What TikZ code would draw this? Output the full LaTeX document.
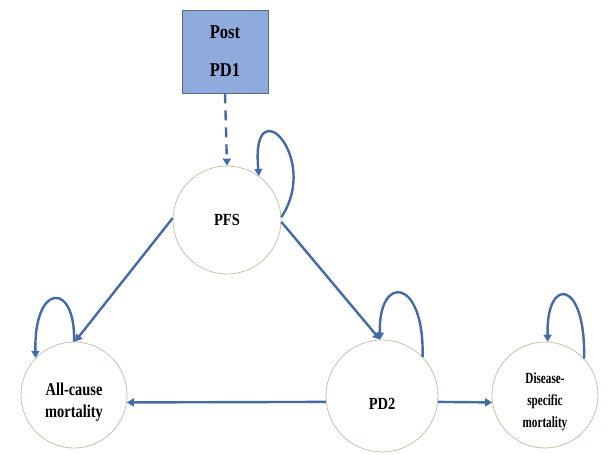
\documentclass[tikz,border=0pt]{standalone}
\usepackage{fontspec}
\setmainfont{Liberation Serif}
\newfontfamily\condA[FakeStretch=0.85]{Liberation Serif}
\newfontfamily\condB[FakeStretch=0.8]{Liberation Serif}
\newfontfamily\condC[FakeStretch=0.72]{Liberation Serif}
\usetikzlibrary{arrows.meta}
\definecolor{boxfill}{RGB}{143,170,220}
\definecolor{boxline}{RGB}{88,104,140}
\definecolor{flow}{RGB}{68,106,168}
\definecolor{ring}{RGB}{200,194,168}
% lower a text inside its node without changing the node's size
\newcommand{\lowertext}[2]{\raisebox{-#1}[\height][\depth]{#2}}
\begin{document}
\begin{tikzpicture}[x=1pt,y=-1pt,
  state/.style={circle,draw=ring,line width=0.8pt,fill=white,inner sep=0pt,align=center},
  flowline/.style={draw=flow,line width=2.4pt,-{Triangle[length=7pt,width=8pt]}},
  loopline/.style={draw=flow,line width=2.4pt,-{Triangle[length=7pt,width=8pt]}},
  entry/.style={rectangle,draw=boxline,line width=0.8pt,fill=boxfill,align=center,
    minimum width=86pt,minimum height=83pt,inner sep=0pt}]
\useasboundingbox (0,0) rectangle (608,455);

% entry box and the four states
\node[entry,font=\condA\bfseries\fontsize{19.5}{38}\selectfont] (post) at (225,51.5)
  {Post\\PD1};
\node[state,minimum size=108pt,font=\condA\bfseries\fontsize{17}{20}\selectfont] (pfs) at (227,220)
  {PFS};
\node[state,minimum size=106pt,font=\condB\bfseries\fontsize{18}{21.7}\selectfont] (allc) at (74,395)
  {\lowertext{7pt}{\begin{tabular}{@{}c@{}}All-cause\\mortality\end{tabular}}};
\node[state,minimum size=112pt,font=\condA\bfseries\fontsize{17}{20}\selectfont] (pd2) at (382,396)
  {\lowertext{8pt}{PD2}};
\node[state,minimum size=106pt,font=\condC\bfseries\fontsize{15.5}{21.7}\selectfont] (dis) at (545,395)
  {\lowertext{6pt}{\begin{tabular}{@{}c@{}}Disease-\\specific\\mortality\end{tabular}}};

% transitions between states
\draw[flowline,dash pattern=on 10pt off 7pt] (post.south) -- (pfs.north);
\draw[flowline] (pfs.178) -- (allc.89);
\draw[flowline] (pfs.-2) -- (pd2.92);
\draw[flowline] (pd2.186) -- (allc.352);
\draw[flowline] (pd2.354) -- (dis.188);

% staying in the same state
\draw[loopline] (pfs.3) .. controls +(40,-60) and +(-9,-91) .. (pfs.54);
\draw[loopline] (allc.90) .. controls +(2,-60) and +(-2,-76) .. (allc.136);
\draw[loopline] (pd2.44) .. controls +(2,-80) and +(-2,-66) .. (pd2.92);
\draw[loopline] (dis.43) .. controls +(2,-80) and +(-2,-66) .. (dis.87);
\end{tikzpicture}
\end{document}
